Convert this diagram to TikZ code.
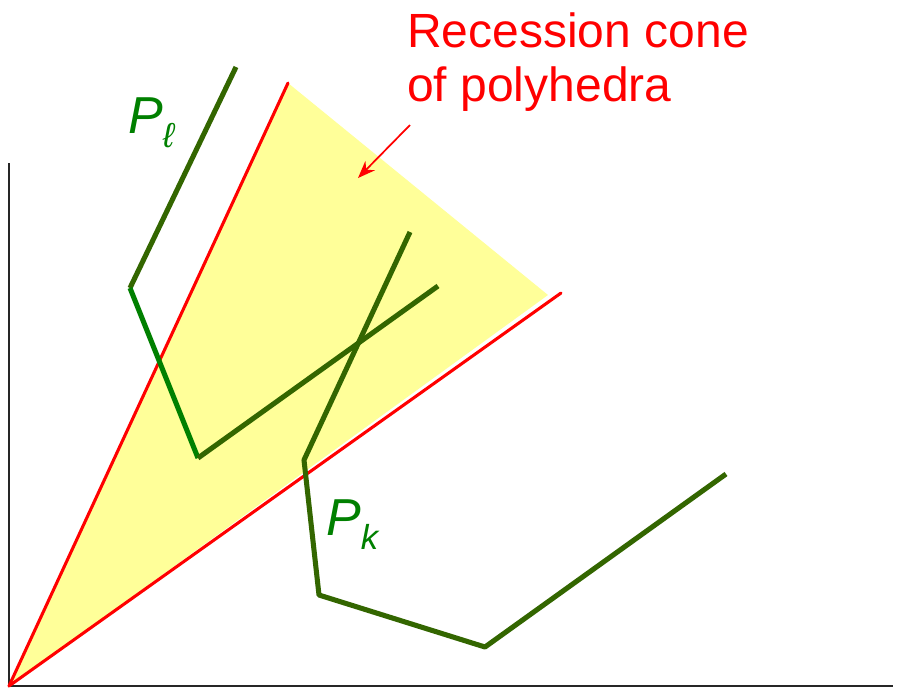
\documentclass[tikz,border=0pt]{standalone}
\usepackage{fontspec}
\setmainfont{Liberation Sans}
\usetikzlibrary{arrows.meta}
\definecolor{olive}{RGB}{51,102,0}
\definecolor{conegreen}{RGB}{0,128,0}
\definecolor{coneyellow}{RGB}{255,255,153}
\begin{document}
\begin{tikzpicture}[x=0.75pt,y=-0.75pt, every node/.style={inner sep=0pt},
  axis/.style={line width=1.5pt,black!85},
  ray/.style={line width=2.3pt,red,line cap=round},
  poly/.style={line width=3.8pt,olive,line join=round},
  lbl/.style={font=\fontsize{39}{39}\selectfont\itshape,text=conegreen,anchor=base west}]
\useasboundingbox (0,0) rectangle (898,694);
% axes
\coordinate (o) at (9,686);
\coordinate (ytop) at (9,163);
\coordinate (xend) at (893,686);
\draw[axis] (ytop) -- (o) -- (xend);
% recession cone
\coordinate (r1) at (288,83);
\coordinate (r2) at (561,293);
\coordinate (c2) at (548,295);
\fill[coneyellow] (o) -- (r1) -- (c2) -- cycle;
\draw[ray] (o) -- (r1);
\draw[ray] (o) -- (r2);
% P_l
\coordinate (l1) at (236,67);
\coordinate (l2) at (130,288);
\coordinate (l3) at (198,458);
\coordinate (l4) at (438,286);
\draw[poly] (l1) -- (l2);
\draw[poly,conegreen] (l2) -- (l3);
\draw[poly] (l3) -- (l4);
% P_k
\coordinate (k1) at (410,232);
\coordinate (k2) at (304,460);
\coordinate (k3) at (319,595);
\coordinate (k4) at (485,647);
\coordinate (k5) at (726,474);
\draw[poly] (k1) -- (k2) -- (k3) -- (k4) -- (k5);
% labels
\node[lbl] (pl) at (128,133) {P\raisebox{-11pt}{\fontsize{26}{26}\selectfont ℓ}};
\node[lbl] (pk) at (326,535) {P\raisebox{-11pt}{\fontsize{26}{26}\selectfont k}};
\node[anchor=north west,align=left,text=red,font=\fontsize{36}{40.5}\selectfont] (title) at (407,12) {Recession cone\\of polyhedra};
\coordinate (a1) at (410,125);
\coordinate (a2) at (358,178);
\draw[red,line width=1.3pt,-{Stealth[length=13pt,width=10pt]}] (a1) -- (a2);
\end{tikzpicture}
\end{document}
